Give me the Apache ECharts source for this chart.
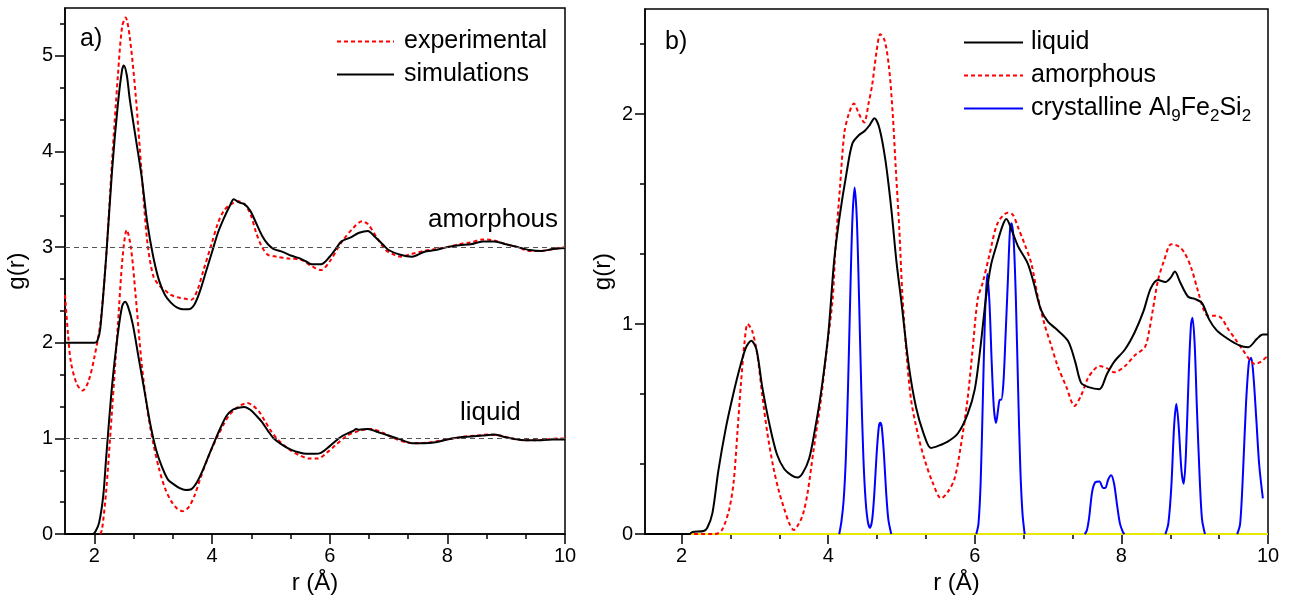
<!DOCTYPE html>
<html>
<head>
<meta charset="utf-8">
<script src="https://cdn.jsdelivr.net/npm/echarts@6/dist/echarts.min.js"></script>
<style>
    html, body { margin: 0; padding: 0; background: #fff; }
    #chart { width: 1293px; height: 600px; }
</style>
</head>
<body>
<div id="chart"></div>
<script>
// ticks (both panels share the r axis)
const rTicks = [2, 4, 6, 8, 10];
const rMinorTicks = [2.667, 3.333, 4.667, 5.333, 6.667, 7.333, 8.667, 9.333];
const gTicksA = [0, 1, 2, 3, 4, 5];
const gMinorA = [0.333, 0.667, 1.333, 1.667, 2.333, 2.667, 3.333, 3.667, 4.333, 4.667, 5.333];
const gTicksB = [0, 1, 2];
const gMinorB = [0.333, 0.667, 1.333, 1.667, 2.333];
const refLevelsA = [1, 3];

// panel a) amorphous (shifted by +2)
const amorphExpA = [[1.5,2.5],[1.55,2.1],[1.6,1.8],[1.7,1.57],[1.8,1.5],[1.9,1.6],[2.0,1.85],[2.1,2.2],[2.2,2.9],[2.3,3.9],[2.4,4.8],[2.47,5.3],[2.53,5.4],[2.6,5.2],[2.7,4.6],[2.8,3.8],[2.9,3.05],[3.0,2.7],[3.1,2.6],[3.2,2.55],[3.3,2.5],[3.45,2.47],[3.55,2.46],[3.65,2.45],[3.75,2.55],[3.85,2.75],[4.0,3.05],[4.1,3.25],[4.2,3.38],[4.3,3.44],[4.45,3.48],[4.55,3.45],[4.65,3.35],[4.75,3.15],[4.85,3.0],[4.95,2.92],[5.1,2.9],[5.3,2.88],[5.5,2.87],[5.7,2.8],[5.85,2.76],[6.0,2.85],[6.2,3.05],[6.4,3.2],[6.55,3.27],[6.65,3.24],[6.8,3.1],[6.95,2.97],[7.1,2.92],[7.2,2.9],[7.4,2.93],[7.6,2.96],[7.8,2.98],[8.0,3.0],[8.2,3.03],[8.4,3.05],[8.6,3.08],[8.8,3.07],[9.0,3.03],[9.2,3.0],[9.4,2.96],[9.6,2.96],[9.8,2.98],[10,3.0]];
const amorphSimA = [[1.5,2],[2.0,2],[2.05,2.02],[2.1,2.15],[2.2,2.9],[2.3,3.8],[2.4,4.5],[2.47,4.85],[2.5,4.9],[2.55,4.8],[2.6,4.55],[2.7,4.15],[2.8,3.75],[2.9,3.25],[3.0,2.9],[3.1,2.65],[3.2,2.5],[3.3,2.42],[3.4,2.37],[3.5,2.35],[3.6,2.35],[3.7,2.4],[3.8,2.55],[3.9,2.75],[4.0,2.95],[4.1,3.15],[4.2,3.3],[4.3,3.43],[4.37,3.5],[4.45,3.47],[4.55,3.45],[4.65,3.38],[4.75,3.25],[4.85,3.12],[4.95,3.03],[5.05,2.98],[5.2,2.95],[5.35,2.91],[5.5,2.88],[5.6,2.85],[5.7,2.82],[5.85,2.82],[6.0,2.9],[6.1,2.98],[6.2,3.06],[6.35,3.1],[6.5,3.15],[6.65,3.17],[6.75,3.12],[6.9,3.03],[7.0,2.97],[7.2,2.92],[7.4,2.9],[7.6,2.95],[7.8,2.97],[8.0,3.0],[8.2,3.02],[8.4,3.03],[8.6,3.06],[8.8,3.06],[9.0,3.03],[9.2,3.0],[9.4,2.97],[9.6,2.96],[9.8,2.98],[10,2.99]];

// panel a) liquid
const liquidExpA = [[2.1,0],[2.13,0.05],[2.2,0.45],[2.3,1.3],[2.4,2.2],[2.48,2.9],[2.55,3.18],[2.62,3.0],[2.7,2.5],[2.8,1.8],[2.9,1.3],[3.0,0.95],[3.1,0.68],[3.2,0.48],[3.3,0.35],[3.4,0.27],[3.5,0.24],[3.6,0.28],[3.7,0.4],[3.8,0.58],[3.9,0.75],[4.0,0.9],[4.1,1.03],[4.2,1.15],[4.3,1.25],[4.4,1.31],[4.5,1.35],[4.6,1.37],[4.7,1.34],[4.8,1.28],[4.9,1.18],[5.0,1.08],[5.1,1.0],[5.2,0.94],[5.35,0.87],[5.5,0.82],[5.65,0.79],[5.8,0.79],[5.95,0.85],[6.1,0.93],[6.3,1.03],[6.5,1.08],[6.7,1.1],[6.9,1.06],[7.1,1.0],[7.3,0.96],[7.5,0.95],[7.7,0.96],[7.9,0.98],[8.1,1.0],[8.3,1.02],[8.5,1.03],[8.7,1.04],[8.9,1.03],[9.1,1.0],[9.3,0.98],[9.5,0.98],[9.7,0.99],[9.9,1.0],[10,1.0]];
const liquidSimA = [[1.5,0],[1.97,0],[2.02,0.03],[2.08,0.12],[2.15,0.4],[2.2,0.8],[2.3,1.55],[2.4,2.1],[2.47,2.38],[2.52,2.43],[2.57,2.38],[2.65,2.2],[2.75,1.85],[2.85,1.5],[2.95,1.15],[3.05,0.88],[3.15,0.7],[3.25,0.57],[3.35,0.52],[3.45,0.48],[3.55,0.46],[3.65,0.47],[3.75,0.55],[3.85,0.68],[3.95,0.83],[4.05,0.98],[4.15,1.12],[4.25,1.24],[4.35,1.3],[4.45,1.32],[4.55,1.33],[4.65,1.3],[4.75,1.24],[4.85,1.17],[4.95,1.08],[5.05,1.0],[5.2,0.93],[5.35,0.88],[5.5,0.85],[5.6,0.84],[5.75,0.84],[5.85,0.85],[6.0,0.92],[6.2,1.02],[6.4,1.08],[6.45,1.1],[6.5,1.09],[6.65,1.1],[6.8,1.07],[7.0,1.03],[7.2,0.99],[7.4,0.95],[7.6,0.95],[7.8,0.96],[8.0,0.99],[8.2,1.01],[8.4,1.02],[8.6,1.03],[8.8,1.04],[9.0,1.01],[9.2,0.99],[9.4,0.98],[9.6,0.98],[9.8,0.99],[10,0.99]];

// panel b)
const liquidB = [[1.5,0],[2.1,0],[2.15,0.01],[2.3,0.015],[2.35,0.03],[2.42,0.1],[2.5,0.3],[2.6,0.5],[2.7,0.66],[2.8,0.8],[2.88,0.89],[2.95,0.92],[3.02,0.88],[3.1,0.7],[3.2,0.52],[3.3,0.38],[3.4,0.31],[3.5,0.28],[3.58,0.27],[3.65,0.29],[3.74,0.36],[3.82,0.5],[3.9,0.67],[4.0,0.95],[4.08,1.3],[4.15,1.5],[4.25,1.72],[4.33,1.86],[4.42,1.9],[4.5,1.92],[4.57,1.95],[4.63,1.98],[4.7,1.93],[4.78,1.78],[4.86,1.55],[4.93,1.3],[5.0,1.1],[5.1,0.8],[5.2,0.6],[5.3,0.48],[5.4,0.41],[5.5,0.42],[5.63,0.44],[5.77,0.48],[5.9,0.57],[6.0,0.69],[6.08,0.9],[6.15,1.12],[6.22,1.28],[6.3,1.38],[6.38,1.47],[6.43,1.5],[6.5,1.45],[6.59,1.37],[6.72,1.29],[6.8,1.2],[6.9,1.07],[7.0,1.01],[7.1,0.98],[7.27,0.92],[7.37,0.82],[7.45,0.72],[7.55,0.7],[7.7,0.69],[7.8,0.76],[7.9,0.82],[8.05,0.88],[8.18,0.96],[8.3,1.06],[8.4,1.17],[8.5,1.21],[8.6,1.2],[8.67,1.22],[8.73,1.25],[8.8,1.2],[8.91,1.13],[9.0,1.12],[9.1,1.1],[9.2,1.02],[9.3,0.97],[9.45,0.93],[9.6,0.9],[9.73,0.89],[9.85,0.93],[9.93,0.95],[10,0.95]];
const amorphB = [[1.5,0],[2.45,0],[2.55,0.02],[2.65,0.12],[2.71,0.25],[2.76,0.48],[2.81,0.72],[2.86,0.92],[2.9,1.0],[2.96,0.97],[3.03,0.86],[3.1,0.66],[3.17,0.48],[3.25,0.32],[3.33,0.2],[3.4,0.12],[3.47,0.05],[3.53,0.02],[3.6,0.05],[3.66,0.1],[3.72,0.2],[3.8,0.4],[3.9,0.64],[3.98,0.88],[4.06,1.12],[4.1,1.37],[4.16,1.65],[4.22,1.91],[4.28,2.0],[4.35,2.05],[4.42,2.0],[4.49,1.96],[4.55,2.05],[4.6,2.14],[4.66,2.3],[4.71,2.38],[4.77,2.35],[4.83,2.22],[4.88,2.0],[4.92,1.75],[4.97,1.45],[5.01,1.15],[5.07,0.85],[5.13,0.64],[5.22,0.48],[5.31,0.36],[5.42,0.25],[5.54,0.17],[5.63,0.2],[5.72,0.26],[5.8,0.4],[5.9,0.64],[5.97,0.88],[6.04,1.12],[6.11,1.2],[6.2,1.33],[6.31,1.48],[6.45,1.53],[6.52,1.52],[6.59,1.46],[6.68,1.38],[6.77,1.29],[6.86,1.13],[6.95,1.0],[7.04,0.9],[7.13,0.8],[7.25,0.7],[7.36,0.61],[7.45,0.66],[7.54,0.74],[7.62,0.78],[7.7,0.8],[7.8,0.79],[7.9,0.77],[8.05,0.8],[8.18,0.85],[8.32,0.89],[8.38,0.97],[8.43,1.07],[8.5,1.21],[8.58,1.3],[8.68,1.38],[8.78,1.37],[8.86,1.34],[8.95,1.27],[9.05,1.15],[9.12,1.07],[9.18,1.04],[9.27,1.04],[9.36,1.03],[9.45,0.98],[9.55,0.93],[9.65,0.88],[9.75,0.83],[9.82,0.81],[9.9,0.82],[10,0.85]];
// crystalline peaks, null separates the zero stretches (drawn as baseline)
const crystB = [[4.15,0],[4.18,0.06],[4.21,0.16],[4.24,0.36],[4.27,0.7],[4.3,1.13],[4.33,1.5],[4.36,1.65],[4.39,1.5],[4.42,1.13],[4.45,0.7],[4.48,0.36],[4.51,0.16],[4.54,0.06],[4.57,0.03],[4.6,0.07],[4.63,0.2],[4.66,0.38],[4.69,0.51],[4.71,0.53],[4.73,0.51],[4.76,0.38],[4.79,0.2],[4.82,0.07],[4.86,0],
    [null,null],
    [6.02,0],[6.05,0.05],[6.08,0.25],[6.11,0.65],[6.14,1.05],[6.17,1.24],[6.2,1.1],[6.23,0.82],[6.26,0.6],[6.29,0.53],[6.32,0.6],[6.34,0.64],[6.36,0.64],[6.39,0.72],[6.42,0.95],[6.45,1.2],[6.48,1.45],[6.5,1.48],[6.53,1.4],[6.56,1.12],[6.59,0.7],[6.62,0.32],[6.65,0.1],[6.68,0],
    [null,null],
    [7.5,0],[7.53,0.02],[7.56,0.08],[7.6,0.2],[7.64,0.245],[7.7,0.25],[7.75,0.22],[7.78,0.22],[7.82,0.26],[7.86,0.28],[7.9,0.24],[7.94,0.14],[7.98,0.05],[8.02,0.01],[8.04,0],
    [null,null],
    [8.6,0],[8.64,0.05],[8.68,0.22],[8.72,0.52],[8.75,0.62],[8.78,0.52],[8.82,0.3],[8.85,0.24],[8.88,0.38],[8.92,0.78],[8.95,1.0],[8.97,1.03],[9.0,0.9],[9.03,0.6],[9.07,0.25],[9.1,0.07],[9.14,0],
    [null,null],
    [9.58,0],[9.62,0.05],[9.66,0.3],[9.7,0.62],[9.74,0.82],[9.77,0.84],[9.8,0.76],[9.84,0.55],[9.88,0.33],[9.93,0.17]];
const baselineB = [[1.5,0],[10,0]];

const FONT = 'Liberation Sans, Arial, sans-serif';

let chart = null;

function mainX(grid) {
    return {
        type: 'value', gridIndex: grid, min: 1.5, max: 10, position: 'bottom',
        name: 'r (Å)', nameLocation: 'middle', nameGap: 36,
        nameTextStyle: { fontFamily: FONT, fontSize: 24, color: '#000' },
        axisLine: { onZero: false, lineStyle: { color: '#000', width: 1.5 } },
        axisTick: { customValues: rTicks, length: 10, lineStyle: { color: '#000', width: 1.5 } },
        axisLabel: { customValues: rTicks, fontFamily: FONT, fontSize: 20, color: '#000', margin: 12 },
        splitLine: { show: false }
    };
}
function minorX(grid) {
    return {
        type: 'value', gridIndex: grid, min: 1.5, max: 10, position: 'bottom', offset: 0,
        axisLine: { show: false },
        axisTick: { customValues: rMinorTicks, length: 5, lineStyle: { color: '#000', width: 1.5 } },
        axisLabel: { show: false },
        splitLine: { show: false }
    };
}
function mainY(grid, max, ticks, gap) {
    return {
        type: 'value', gridIndex: grid, min: 0, max: max, position: 'left',
        name: 'g(r)', nameLocation: 'middle', nameGap: gap, nameRotate: 90,
        nameTextStyle: { fontFamily: FONT, fontSize: 24, color: '#000' },
        axisLine: { show: true, onZero: false, lineStyle: { color: '#000', width: 1.5 } },
        axisTick: { show: true, customValues: ticks, length: 10, lineStyle: { color: '#000', width: 1.5 } },
        axisLabel: { customValues: ticks, fontFamily: FONT, fontSize: 20, color: '#000', margin: 12 },
        splitLine: { show: false }
    };
}
function minorY(grid, max, ticks) {
    return {
        type: 'value', gridIndex: grid, min: 0, max: max, position: 'left', offset: 0,
        axisLine: { show: false },
        axisTick: { show: true, customValues: ticks, length: 5, lineStyle: { color: '#000', width: 1.5 } },
        axisLabel: { show: false },
        splitLine: { show: false }
    };
}
function line(name, data, x, y, color, dashed) {
    return {
        name: name, type: 'line', data: data, xAxisIndex: x, yAxisIndex: y,
        symbol: 'none', smooth: 0.3, connectNulls: false,
        lineStyle: { color: color, width: 2, type: dashed ? [4, 3] : 'solid' },
        itemStyle: { color: color },
        silent: true
    };
}

const chartOpt = {
    animation: false,
    grid: [
        { left: 65, top: 8, width: 500, height: 527, show: true, borderColor: '#000', borderWidth: 1.5 },
        { left: 645, top: 9, width: 623, height: 526, show: true, borderColor: '#000', borderWidth: 1.5 }
    ],
    xAxis: [mainX(0), minorX(0), mainX(1), minorX(1)],
    yAxis: [
        mainY(0, 5.5, gTicksA, 36), minorY(0, 5.5, gMinorA),
        mainY(1, 2.5, gTicksB, 30), minorY(1, 2.5, gMinorB)
    ],
    legend: [
        {
            data: ['experimental', 'simulations'], orient: 'vertical', left: 331, top: 24,
            itemWidth: 57, itemHeight: 14, itemGap: 8,
            itemStyle: { opacity: 0 },
            textStyle: { fontFamily: FONT, fontSize: 25, color: '#000', padding: [0, 0, 0, 5] }
        },
        {
            data: ['liquid', 'amorphous', 'crystalline'], orient: 'vertical', left: 958, top: 25,
            itemWidth: 59, itemHeight: 14, itemGap: 8,
            itemStyle: { opacity: 0 },
            formatter: function (n) {
                return n === 'crystalline' ? 'crystalline Al{s|9}Fe{s|2}Si{s|2}' : n;
            },
            textStyle: {
                fontFamily: FONT, fontSize: 25, color: '#000', padding: [0, 0, 0, 3],
                rich: { s: { fontFamily: FONT, fontSize: 17, color: '#000', verticalAlign: 'bottom', padding: [16, 0, 0, 0] } }
            }
        }
    ],
    graphic: [
        { type: 'text', left: 80, top: 27, style: { text: 'a)', font: '25px ' + FONT, fill: '#000' } },
        { type: 'text', left: 665, top: 30, style: { text: 'b)', font: '25px ' + FONT, fill: '#000' } },
        { type: 'text', left: 428, top: 207, style: { text: 'amorphous', font: '26px ' + FONT, fill: '#000' } },
        { type: 'text', left: 460, top: 400, style: { text: 'liquid', font: '26px ' + FONT, fill: '#000' } }
    ],
    series: [
        Object.assign(line('experimental', amorphExpA, 0, 0, '#ff0000', true), {
            markLine: {
                silent: true, symbol: 'none', label: { show: false },
                lineStyle: { color: '#555', type: [5, 4], width: 1.2 },
                data: refLevelsA.map(v => ({ yAxis: v }))
            }
        }),
        line('simulations', amorphSimA, 0, 0, '#000000', false),
        line('experimental', liquidExpA, 0, 0, '#ff0000', true),
        line('simulations', liquidSimA, 0, 0, '#000000', false),
        line('baseline', baselineB, 2, 2, '#e8e800', false),
        line('crystalline', crystB, 2, 2, '#0000ff', false),
        line('amorphous', amorphB, 2, 2, '#ff0000', true),
        line('liquid', liquidB, 2, 2, '#000000', false)
    ]
};

function initCharts() {
    chart = echarts.init(document.getElementById('chart'));
    chart.setOption(chartOpt);
}
initCharts();
</script>
</body>
</html>
